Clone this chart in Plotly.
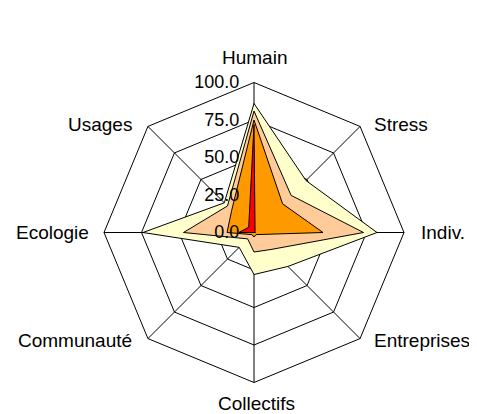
import plotly.graph_objects as go

# axes, clockwise from the top
categories = ['Humain', 'Stress', 'Indiv.', 'Entreprises', 'Collectifs',
              'Communauté', 'Ecologie', 'Usages']

# four nested series, largest first (drawn at the back)
serie_1 = [86, 49, 82, 32, 28, 14, 74, 28]
serie_2 = [81, 35, 73, 16, 13, 6, 47, 25]
serie_3 = [75, 27, 46, 2, 3, 2, 18, 21]
serie_4 = [72, 1, 1, 0, 0, 0, 10, 5]

tick_vals = [0, 25, 50, 75, 100]
tick_text = ['0.0', '25.0', '50.0', '75.0', '100.0']

colors = ['#FFFFCC', '#FFCC99', '#FF9900', '#FF0000']

# the page body adds an 8px margin, so the figure is 8px smaller and shifted
W, H = 469, 406
OFF = 8
cx, cy, rad = 254 - OFF, 232.5 - OFF, 150

# category labels sit beside the octagon corners (page pixels, anchor)
label_pos = [
    (254, 57, 'center'), (372, 124, 'left'), (419, 232, 'left'),
    (372, 340, 'left'), (257, 403, 'center'), (134, 340, 'right'),
    (91, 232, 'right'), (134, 124, 'right'),
]

fig = go.Figure()
for name, vals, col in zip(['Série 1', 'Série 2', 'Série 3', 'Série 4'],
                           [serie_1, serie_2, serie_3, serie_4], colors):
    fig.add_trace(go.Scatterpolar(
        r=vals + vals[:1],
        theta=categories + categories[:1],
        mode='lines',
        fill='toself',
        fillcolor=col,
        line=dict(color='black', width=1),
        name=name,
        showlegend=False,
    ))

for cat, (px_, py_, anchor) in zip(categories, label_pos):
    fig.add_annotation(
        text=cat, showarrow=False,
        xref='paper', yref='paper',
        x=(px_ - OFF) / W, y=1 - (py_ - OFF) / H,
        xanchor=anchor, yanchor='middle',
        font=dict(size=19),
    )

fig.update_layout(
    width=W,
    height=H,
    margin=dict(l=0, r=0, t=0, b=0),
    paper_bgcolor='white',
    font=dict(family='Liberation Sans, Arial', size=18, color='black'),
    polar=dict(
        domain=dict(x=[(cx - rad) / W, (cx + rad) / W],
                    y=[1 - (cy + rad) / H, 1 - (cy - rad) / H]),
        bgcolor='white',
        gridshape='linear',
        radialaxis=dict(
            range=[0, 100],
            tickvals=tick_vals,
            ticktext=tick_text,
            angle=90,
            tickangle=90,
            side='counterclockwise',
            showline=False,
            ticks='outside',
            ticklen=8,
            tickcolor='rgba(0,0,0,0)',
            gridcolor='black',
            gridwidth=1,
            tickfont=dict(size=18),
        ),
        angularaxis=dict(
            direction='clockwise',
            rotation=90,
            showline=True,
            linecolor='black',
            linewidth=1,
            gridcolor='black',
            gridwidth=1,
            ticks='',
            showticklabels=False,
        ),
    ),
)

fig.write_html('out.html')
